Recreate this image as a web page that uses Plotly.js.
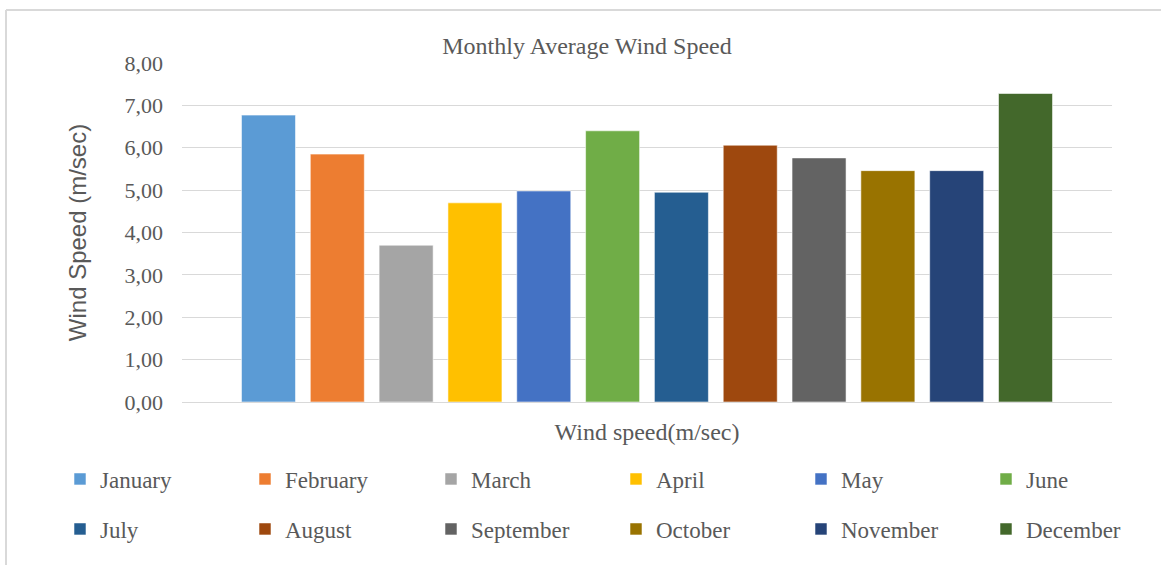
<!DOCTYPE html>
<html>
<head>
<meta charset="utf-8">
<script src="https://cdn.plot.ly/plotly-3.0.1.min.js"></script>
<style>html,body{margin:0;padding:0;background:#fff;}#chart{width:1161px;height:565px;}</style>
</head>
<body>
<div id="chart"></div>
<script>
const categories = ['Wind speed(m/sec)'];
const months = ['January','February','March','April','May','June','July','August','September','October','November','December'];
const speeds = [6.77, 5.85, 3.70, 4.70, 4.98, 6.40, 4.95, 6.06, 5.76, 5.46, 5.46, 7.28];
const colors = ['#5B9BD5','#ED7D31','#A5A5A5','#FFC000','#4472C4','#70AD47','#255E91','#9E480E','#636363','#997300','#264478','#43682B'];
const yTicks = [0,1,2,3,4,5,6,7,8];

const W = 1161, H = 565;
const L = 182, R = 1112, T = 63, B = 402;
const pw = R - L, ph = B - T;
const px = v => (v - L) / pw;
const py = v => (B - v) / ph;

const serif = 'Liberation Serif, Times New Roman, serif';
const grey = '#595959';

// legend layout: 6 columns, 2 rows
const colSwatchLeft = [77, 262, 448, 633, 818, 1003];
const rowCenter = [479, 529];

const traces = months.map((m, i) => ({
  type: 'bar',
  name: m,
  x: categories,
  y: [speeds[i]],
  marker: {color: colors[i], line: {color: 'rgba(255,255,255,0.55)', width: 1}},
  legend: i === 0 ? 'legend' : 'legend' + (i + 1),
  hovertemplate: m + ': %{y:.2f}<extra></extra>'
}));

const layout = {
  width: W, height: H,
  margin: {l: L, r: W - R, t: T, b: H - B, pad: 0, autoexpand: false},
  paper_bgcolor: '#fff', plot_bgcolor: '#fff',
  separators: ', ',
  barmode: 'group',
  bargap: 0.112,
  bargroupgap: 0.215,
  title: {
    text: 'Monthly Average Wind Speed',
    font: {family: serif, size: 24, color: grey},
    xref: 'container', x: 587 / W, xanchor: 'center',
    yref: 'container', y: 1 - 46 / H, yanchor: 'middle'
  },
  xaxis: {
    type: 'category',
    showgrid: false,
    showline: true, linecolor: '#D9D9D9', linewidth: 1,
    ticks: '',
    ticklabelstandoff: 8,
    tickfont: {family: serif, size: 24, color: grey},
    fixedrange: true
  },
  yaxis: {
    range: [0, 8],
    tickvals: yTicks,
    tickformat: '.2f',
    showgrid: true, gridcolor: '#D9D9D9', gridwidth: 1,
    zeroline: false, showline: false,
    ticks: '',
    ticklabelstandoff: 18,
    tickfont: {family: serif, size: 22, color: grey},
    title: {
      text: 'Wind Speed (m/sec)',
      font: {family: 'Liberation Sans, Arial, sans-serif', size: 24, color: grey},
      standoff: 31
    },
    fixedrange: true
  },
  shapes: [
    {type: 'line', xref: 'paper', yref: 'paper', x0: px(6), x1: px(6), y0: py(10), y1: py(565), line: {color: '#D9D9D9', width: 2}},
    {type: 'line', xref: 'paper', yref: 'paper', x0: px(6), x1: px(1161), y0: py(10), y1: py(10), line: {color: '#D9D9D9', width: 2}}
  ],
  showlegend: true
};

months.forEach((m, i) => {
  const key = i === 0 ? 'legend' : 'legend' + (i + 1);
  layout[key] = {
    orientation: 'h',
    xref: 'paper', yref: 'paper',
    x: px(colSwatchLeft[i % 6] - 17),
    y: py(rowCenter[Math.floor(i / 6)]),
    xanchor: 'left', yanchor: 'middle',
    bgcolor: 'rgba(0,0,0,0)',
    font: {family: serif, size: 23, color: grey},
    itemclick: false, itemdoubleclick: false
  };
});

Plotly.newPlot('chart', traces, layout, {displayModeBar: false});
</script>
</body>
</html>
